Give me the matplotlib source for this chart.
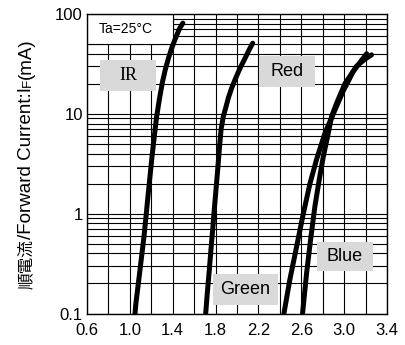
import matplotlib
matplotlib.use("Agg")
import matplotlib.pyplot as plt
from matplotlib.patches import Rectangle

# Forward voltage (V) / forward current (mA)
ir_v = [1.048, 1.057, 1.076, 1.095, 1.113, 1.132, 1.151, 1.169, 1.188, 1.207, 1.228,
        1.25, 1.28, 1.305, 1.33, 1.36, 1.39, 1.42, 1.445, 1.465, 1.495]
ir_i = [0.1, 0.128, 0.187, 0.275, 0.40, 0.59, 0.94, 1.49, 2.36, 3.74, 5.9,
        9.4, 14.9, 21, 27.5, 36, 45.4, 55, 64.1, 71.9, 81]

red_v = [1.708, 1.723, 1.742, 1.757, 1.773, 1.788, 1.804, 1.82, 1.835, 1.851,
         1.872, 1.894, 1.919, 1.95, 1.988, 2.028, 2.075, 2.121, 2.147]
red_i = [0.1, 0.161, 0.275, 0.437, 0.69, 1.1, 1.74, 2.75, 4.4, 6.9,
         9.4, 11.4, 14.4, 18.1, 22.8, 28.6, 36, 45.4, 51]

green_v = [2.438, 2.494, 2.557, 2.619, 2.681, 2.743, 2.821, 2.899, 2.992, 3.085, 3.15, 3.21]
green_i = [0.1, 0.22, 0.47, 1.0, 2.0, 3.5, 6.4, 10, 17, 26.5, 33, 40]

blue_v = [2.612, 2.65, 2.687, 2.727, 2.768, 2.805, 2.852, 2.883, 2.93, 3.007, 3.116, 3.19, 3.256]
blue_i = [0.1, 0.255, 0.55, 1.18, 2.2, 3.7, 6.4, 9.4, 12.8, 20, 30, 35, 39]

x_ticks = [0.6, 1.0, 1.4, 1.8, 2.2, 2.6, 3.0, 3.4]
x_ticklabels = ["0.6", "1.0", "1.4", "1.8", "2.2", "2.6", "3.0", "3.4"]
y_ticks = [0.1, 1, 10, 100]
y_ticklabels = ["0.1", "1", "10", "100"]

labels = ["IR", "Red", "Green", "Blue"]
label_x = [(0.721, 1.244), (2.205, 2.727), (1.776, 2.382), (2.746, 3.268)]
label_y = [(17.0, 34.7), (18.6, 38.0), (0.123, 0.251), (0.269, 0.525)]

SANS = ["Liberation Sans", "DejaVu Sans"]
plt.rcParams["font.family"] = SANS

fig = plt.figure(figsize=(4.05, 3.45), dpi=100)
ax = fig.add_axes([0.2148, 0.0913, 0.7407, 0.8681])
ax.set_yscale("log")
ax.set_xlim(0.6, 3.4)
ax.set_ylim(0.1, 100)

# grid
gx = [0.6 + 0.2 * k for k in range(15)]
for v in gx:
    ax.axvline(v, color="black", lw=0.8, zorder=1)
for dec in [0.1, 1, 10]:
    for m in range(1, 10):
        ax.axhline(dec * m, color="black", lw=0.8, zorder=1)
for s in ax.spines.values():
    s.set_linewidth(1.0)
    s.set_zorder(5)

ax.set_xticks(x_ticks)
ax.set_xticklabels(x_ticklabels, fontsize=12)
ax.set_yticks(y_ticks)
ax.set_yticklabels(y_ticklabels, fontsize=12)
ax.minorticks_off()
ax.tick_params(axis="both", length=0)
ax.tick_params(axis="x", pad=7)
ax.tick_params(axis="y", pad=3)

# Ta box
ax.add_patch(Rectangle((0.6, 50), 0.8, 50, facecolor="white", edgecolor="black",
                       lw=0.8, zorder=2))
ax.text(0.96, 70.7, "Ta=25°C", fontsize=10, ha="center", va="center", zorder=6)

# label boxes
for lab, (x0, x1), (y0, y1) in zip(labels, label_x, label_y):
    ax.add_patch(Rectangle((x0, y0), x1 - x0, y1 - y0, facecolor="#d9d9d9",
                           edgecolor="none", zorder=2))
    fam = ["Liberation Serif", "DejaVu Serif"] if lab == "IR" else SANS
    ax.text((x0 + x1) / 2, (y0 * y1) ** 0.5, lab, fontsize=13, family=fam,
            ha="center", va="center", zorder=3)

for v, i in [(ir_v, ir_i), (red_v, red_i), (green_v, green_i), (blue_v, blue_i)]:
    ax.plot(v, i, color="black", lw=3.6, solid_capstyle="round",
            solid_joinstyle="round", zorder=4)

# y label built from pieces (small F), centred on the axes
JP = ["Noto Sans CJK JP", "DejaVu Sans"]
LAT = ["Liberation Sans", "Noto Sans CJK JP", "DejaVu Sans"]
pieces = [("順電流", 12, JP), ("/Forward Current:I", 13.5, LAT), ("F", 9.5, LAT),
          ("(mA)", 13.5, LAT)]
fig.canvas.draw()
r = fig.canvas.get_renderer()
xbase = 31
texts = []
heights = []
for txt, fs, fam in pieces:
    t = fig.text(xbase / 405, 0, txt, fontsize=fs, family=fam, rotation=90,
                 rotation_mode="anchor", ha="left", va="baseline")
    texts.append(t)
    heights.append(t.get_window_extent(renderer=r).height)
total = sum(heights)
ycenter = 345 - 163.5
ypix = ycenter - total / 2
for t, h in zip(texts, heights):
    t.set_position((xbase / 405, ypix / 345))
    ypix += h

fig.savefig("out.png", dpi=100)
